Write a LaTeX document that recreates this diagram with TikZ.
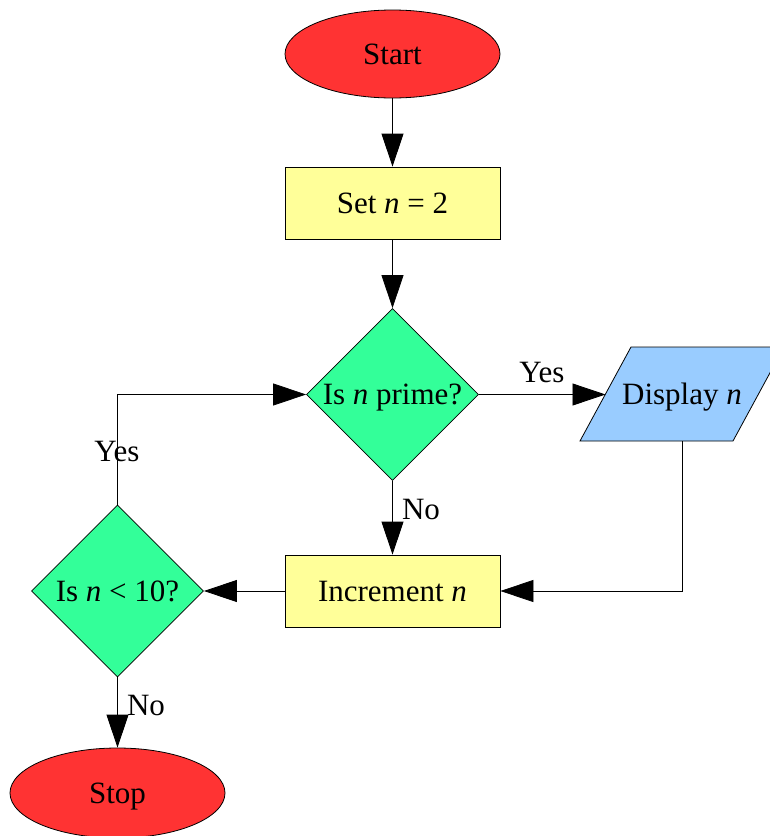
\documentclass[tikz,border=0pt]{standalone}
\usepackage{fontspec}
\setmainfont{Liberation Serif}
\usetikzlibrary{shapes.geometric,arrows.meta}
\definecolor{termred}{HTML}{FF3333}
\definecolor{procyellow}{HTML}{FFFF99}
\definecolor{decgreen}{HTML}{33FF99}
\definecolor{ioblue}{HTML}{99CCFF}
\tikzset{
  every node/.style={font=\fontsize{31}{37}\selectfont, inner sep=0pt, text height=20.5pt, text depth=0pt},
  terminal/.style={ellipse, draw, line width=0.8pt, fill=termred, minimum width=215pt, minimum height=88pt},
  process/.style={rectangle, draw, line width=0.8pt, fill=procyellow, minimum width=215pt, minimum height=72pt},
  decision/.style={diamond, draw, line width=0.8pt, fill=decgreen, minimum width=172pt, minimum height=172pt},
  ioshape/.style={draw, line width=0.8pt, fill=ioblue},
  flow/.style={line width=0.8pt, -{Triangle[length=33pt,width=22pt]}},
}
\begin{document}
\begin{tikzpicture}[x=1pt,y=-1pt]
\useasboundingbox (0,0) rectangle (770,836);
\node[terminal] (start) at (392.5,54) {Start};
\node[process] (setn) at (392.5,203) {Set \textit{n} = 2};
\node[decision] (prime) at (392.5,394.5) {Is \textit{n} prime?};
\node[process] (incr) at (392.5,591) {Increment \textit{n}};
\node[decision] (less) at (117.5,591) {Is \textit{n} < 10?};
\node[terminal, minimum height=90pt] (stop) at (117.5,793) {Stop};

% input/output parallelogram
\draw[ioshape] (580,441) -- (631,347) -- (784,347) -- (733,441) -- cycle;
\node (disp) at (682,394.5) {Display \textit{n}};
\coordinate (dispin) at (605.5,394.5);
\coordinate (dispout) at (682,441);

\draw[flow] (start.south) -- (setn.north);
\draw[flow] (setn.south) -- (prime.north);
\draw[flow] (prime.east) -- (dispin);
\draw[flow] (dispout) |- (incr.east);
\draw[flow] (prime.south) -- (incr.north);
\draw[flow] (incr.west) -- (less.east);
\draw[flow] (less.north) |- (prime.west);
\draw[flow] (less.south) -- (stop.north);

\node (yesright) at (542,372) {Yes};
\node (noprime) at (421,509) {No};
\node (yesleft) at (117,451) {Yes};
\node (noless) at (146,705) {No};
\end{tikzpicture}
\end{document}
